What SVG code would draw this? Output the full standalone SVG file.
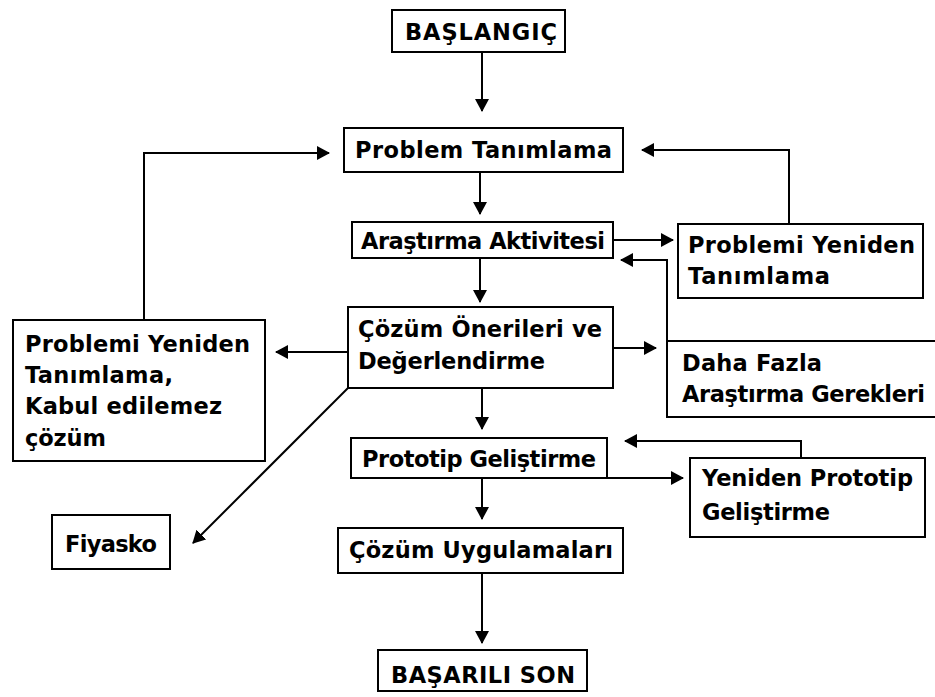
<svg xmlns="http://www.w3.org/2000/svg" width="935" height="697" viewBox="0 0 935 697">
<style>
  .box { fill: #ffffff; stroke: #000000; stroke-width: 2; }
  .lbl { font-family: "DejaVu Sans", "Liberation Sans", sans-serif; font-weight: bold; font-size: 22.5px; fill: #000000; }
  .edge { fill: none; stroke: #000000; stroke-width: 2; marker-end: url(#ah); }
</style>
<defs>
  <marker id="ah" markerUnits="userSpaceOnUse" markerWidth="14" markerHeight="14" refX="12" refY="7" orient="auto">
    <path d="M0,0 L13,7 L0,14 z" fill="#000000"/>
  </marker>
</defs>
<rect width="935" height="697" fill="#ffffff"/>

<g id="connectors">
  <path class="edge" d="M482,52 L482,111"/>
  <path class="edge" d="M480,172 L480,214"/>
  <path class="edge" d="M480,258 L480,302"/>
  <path class="edge" d="M482,388 L482,429"/>
  <path class="edge" d="M482,478 L482,519"/>
  <path class="edge" d="M482,573 L482,643"/>
  <path class="edge" d="M144,320 L144,153 L329,153"/>
  <path class="edge" d="M789,224 L789,150 L642,150"/>
  <path class="edge" d="M613,240 L673,240"/>
  <path class="edge" d="M667,341 L667,260 L621,260"/>
  <path class="edge" d="M613,348 L656,348"/>
  <path class="edge" d="M348,352 L276,352"/>
  <path class="edge" d="M348,388 L193,543"/>
  <path class="edge" d="M607,478 L683,478"/>
  <path class="edge" d="M801,458 L801,441 L625,441"/>
</g>

<g id="baslangic">
  <rect class="box" x="392" y="10" width="173" height="42"/>
  <text class="lbl" x="405" y="40" textLength="152" lengthAdjust="spacing">BAŞLANGIÇ</text>
</g>
<g id="problem-tanimlama">
  <rect class="box" x="344" y="128" width="279" height="44"/>
  <text class="lbl" x="355" y="158" textLength="257" lengthAdjust="spacing">Problem Tanımlama</text>
</g>
<g id="arastirma-aktivitesi">
  <rect class="box" x="352" y="222" width="261" height="36"/>
  <text class="lbl" x="361" y="249" textLength="244" lengthAdjust="spacing">Araştırma Aktivitesi</text>
</g>
<g id="problemi-yeniden-sag">
  <rect class="box" x="678" y="224" width="245" height="74"/>
  <text class="lbl" x="688" y="253" textLength="227" lengthAdjust="spacing">Problemi Yeniden</text>
  <text class="lbl" x="688" y="284" textLength="142" lengthAdjust="spacing">Tanımlama</text>
</g>
<g id="cozum-onerileri">
  <rect class="box" x="348" y="307" width="265" height="81"/>
  <text class="lbl" x="358" y="337" textLength="244" lengthAdjust="spacing">Çözüm Önerileri ve</text>
  <text class="lbl" x="358" y="369" textLength="187" lengthAdjust="spacing">Değerlendirme</text>
</g>
<g id="problemi-yeniden-sol">
  <rect class="box" x="13" y="320" width="252" height="141"/>
  <text class="lbl" x="25" y="352" textLength="225" lengthAdjust="spacing">Problemi Yeniden</text>
  <text class="lbl" x="25" y="383" textLength="148" lengthAdjust="spacing">Tanımlama,</text>
  <text class="lbl" x="25" y="414" textLength="197" lengthAdjust="spacing">Kabul edilemez</text>
  <text class="lbl" x="25" y="446" textLength="81" lengthAdjust="spacing">çözüm</text>
</g>
<g id="daha-fazla">
  <rect class="box" x="667" y="341" width="275" height="76"/>
  <text class="lbl" x="682" y="371" textLength="140" lengthAdjust="spacing">Daha Fazla</text>
  <text class="lbl" x="682" y="402" textLength="243" lengthAdjust="spacing">Araştırma Gerekleri</text>
</g>
<g id="prototip-gelistirme">
  <rect class="box" x="351" y="438" width="256" height="40"/>
  <text class="lbl" x="362" y="467" textLength="234" lengthAdjust="spacing">Prototip Geliştirme</text>
</g>
<g id="yeniden-prototip">
  <rect class="box" x="690" y="458" width="235" height="79"/>
  <text class="lbl" x="702" y="486" textLength="211" lengthAdjust="spacing">Yeniden Prototip</text>
  <text class="lbl" x="702" y="520" textLength="128" lengthAdjust="spacing">Geliştirme</text>
</g>
<g id="fiyasko">
  <rect class="box" x="52" y="515" width="118" height="54"/>
  <text class="lbl" x="65" y="552" textLength="92" lengthAdjust="spacing">Fiyasko</text>
</g>
<g id="cozum-uygulamalari">
  <rect class="box" x="338" y="528" width="285" height="45"/>
  <text class="lbl" x="349" y="558" textLength="264" lengthAdjust="spacing">Çözüm Uygulamaları</text>
</g>
<g id="basarili-son">
  <rect class="box" x="378" y="650" width="209" height="41"/>
  <text class="lbl" x="391" y="683" textLength="184" lengthAdjust="spacing">BAŞARILI SON</text>
</g>
</svg>
